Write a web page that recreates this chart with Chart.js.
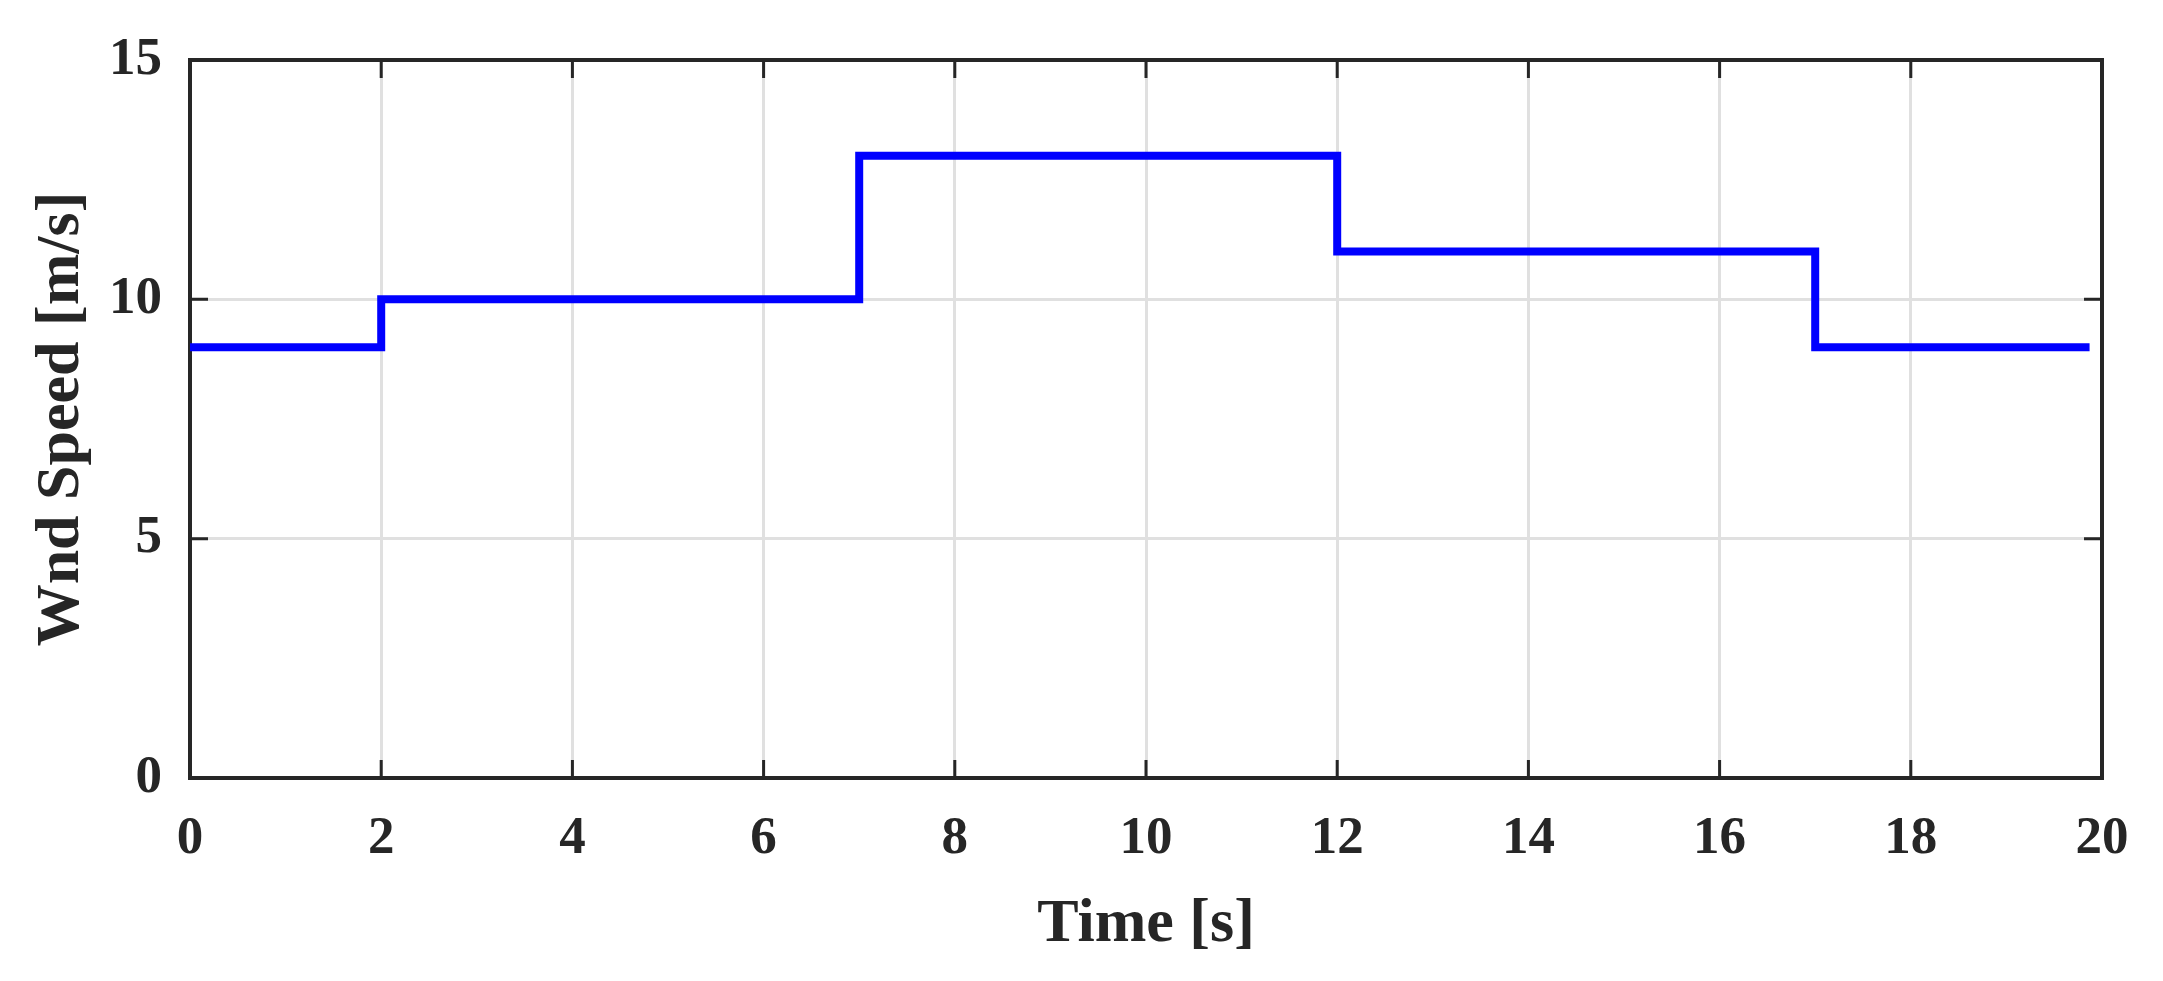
<!DOCTYPE html>
<html>
<head>
<meta charset="utf-8">
<script src="https://cdn.jsdelivr.net/npm/chart.js@4.4.1/dist/chart.umd.min.js"></script>
<style>
  html, body { margin: 0; padding: 0; background: #fff; }
  #wrap { width: 2163px; height: 981px; position: relative; }
</style>
</head>
<body>
<div id="wrap"><canvas id="chart"></canvas></div>
<script>
// time where each level ends (step-before), and wind speed level
const timeS = [0, 2, 7, 12, 17, 19.87];
const windSpeed = [9, 10, 13, 11, 9, 9];
const xTicks = [0, 2, 4, 6, 8, 10, 12, 14, 16, 18, 20];
const yTicks = [0, 5, 10, 15];

const serif = '"Liberation Serif", "Times New Roman", serif';
const axisColor = '#262626';

let points = [];
for (let i = 0; i < timeS.length; i++) {
  points.push({ x: timeS[i], y: windSpeed[i] });
}

// box round the plot and inward tick marks, like matlab axes
const boxPlugin = {
  id: 'box',
  beforeDatasetsDraw(chart) {
    const ctx = chart.ctx;
    const a = chart.chartArea;
    const xs = chart.scales.x, ys = chart.scales.y;
    const tl = 18;
    ctx.save();
    ctx.strokeStyle = axisColor;
    ctx.lineWidth = 3;
    ctx.beginPath();
    xTicks.forEach(v => {
      const px = xs.getPixelForValue(v);
      ctx.moveTo(px, a.bottom); ctx.lineTo(px, a.bottom - tl);
      ctx.moveTo(px, a.top); ctx.lineTo(px, a.top + tl);
    });
    yTicks.forEach(v => {
      const py = ys.getPixelForValue(v);
      ctx.moveTo(a.left, py); ctx.lineTo(a.left + tl, py);
      ctx.moveTo(a.right, py); ctx.lineTo(a.right - tl, py);
    });
    ctx.stroke();
    ctx.lineWidth = 4;
    ctx.strokeRect(a.left, a.top, a.right - a.left, a.bottom - a.top);
    ctx.restore();
  }
};

new Chart(document.getElementById('chart').getContext('2d'), {
  type: 'line',
  data: {
    datasets: [{
      data: points,
      borderColor: '#0000ff',
      borderWidth: 8,
      stepped: 'before',
      pointRadius: 0,
      fill: false,
      borderJoinStyle: 'miter',
      borderCapStyle: 'butt'
    }]
  },
  options: {
    responsive: true,
    maintainAspectRatio: false,
    devicePixelRatio: 1,
    animation: false,
    layout: { padding: { left: 0, right: 61, top: 60, bottom: 0 } },
    plugins: { legend: { display: false }, tooltip: { enabled: false } },
    scales: {
      x: {
        type: 'linear',
        min: 0, max: 20,
        afterFit: s => { s.height = 203; },
        afterBuildTicks: s => { s.ticks = xTicks.map(v => ({ value: v })); },
        grid: { color: '#e0e0e0', lineWidth: 3, drawTicks: false },
        border: { display: false },
        ticks: {
          padding: 30,
          color: axisColor,
          font: { family: serif, size: 53, weight: 'bold' },
          maxRotation: 0
        },
        title: {
          display: true,
          text: 'Time [s]',
          color: axisColor,
          font: { family: serif, size: 62, weight: 'bold' },
          padding: { top: 0, bottom: 19 }
        }
      },
      y: {
        min: 0, max: 15,
        afterFit: s => { s.width = 190; },
        afterBuildTicks: s => { s.ticks = yTicks.map(v => ({ value: v })); },
        grid: { color: '#e0e0e0', lineWidth: 3, drawTicks: false },
        border: { display: false },
        ticks: {
          padding: 28,
          color: axisColor,
          font: { family: serif, size: 53, weight: 'bold' }
        },
        title: {
          display: true,
          text: 'Wnd Speed [m/s]',
          color: axisColor,
          font: { family: serif, size: 62, weight: 'bold' },
          padding: { top: 25, bottom: 0 }
        }
      }
    }
  },
  plugins: [boxPlugin]
});
</script>
</body>
</html>
